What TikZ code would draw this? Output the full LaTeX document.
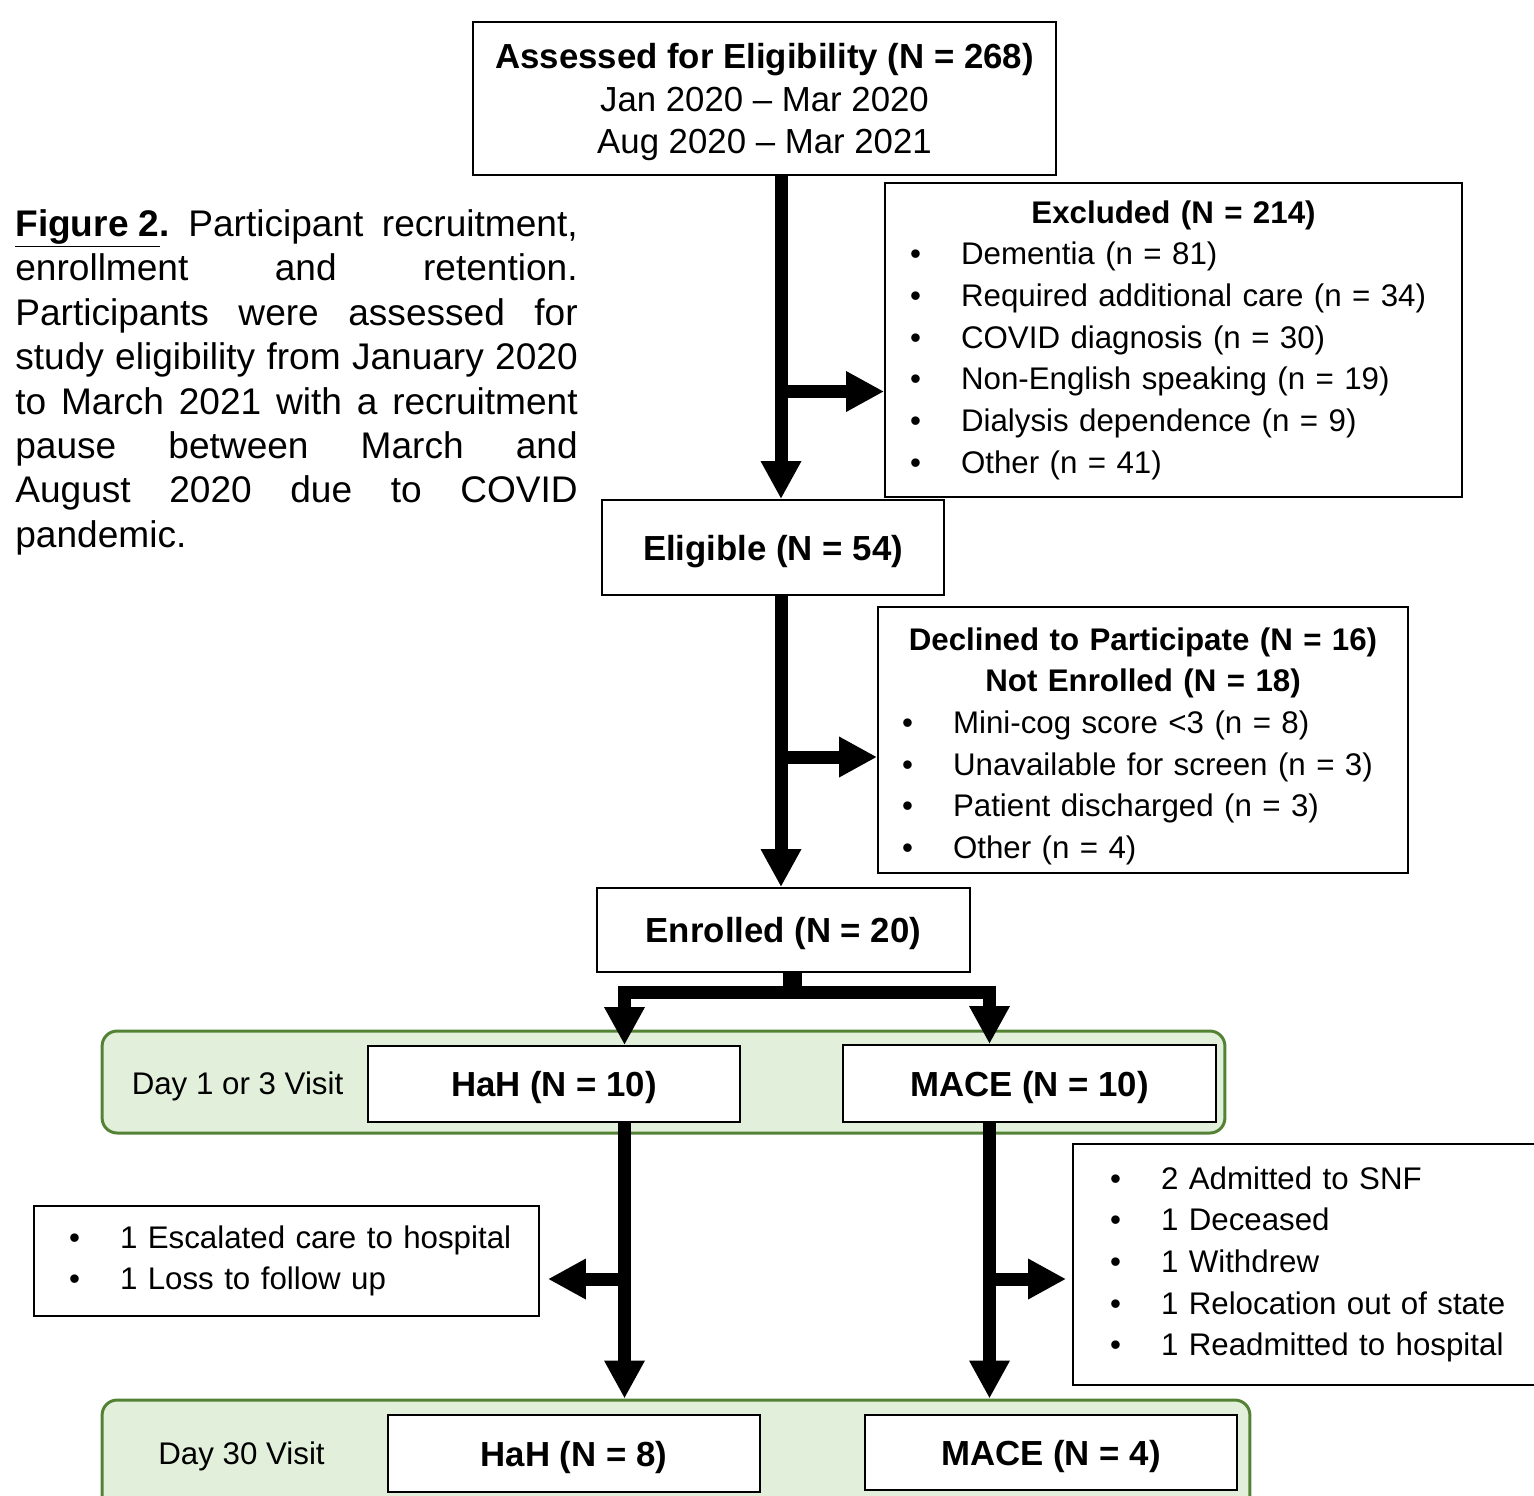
\documentclass[tikz,border=0pt]{standalone}
\usepackage{fontspec}
\setmainfont{Liberation Sans}
\usetikzlibrary{arrows.meta,calc}
\definecolor{visitfill}{HTML}{E2EFDA}
\definecolor{visitline}{HTML}{548235}
\tikzset{
	box/.style={draw, line width=1.1pt, fill=white, inner sep=0pt, align=center},
	plain/.style={box, text depth=0pt},
	visit/.style={draw=visitline, fill=visitfill, line width=1.7pt, rounded corners=0.3cm, inner sep=0pt},
	flow/.style={line width=0.26cm, -{Triangle[length=0.76cm,width=0.76cm]}},
}
\newcommand{\hdsize}{\fontsize{19.8}{24.1}\selectfont}
\newcommand{\bdsize}{\fontsize{17.8}{23.7}\selectfont}
\newcommand{\bul}{\makebox[1.02cm][l]{•}}
\newcommand{\bulin}{\hspace*{0.35cm}\bul}

\begin{document}
\begin{tikzpicture}[x=0.02cm, y=-0.02cm]
	\useasboundingbox (0,0) rectangle (1534,1495);
	% caption
	\node[anchor=north west, text width=11.25cm, inner sep=0pt, align=justify, font=\fontsize{21.1}{25.3}\selectfont] (cap) at (15,209) {\sloppy\frenchspacing\textbf{\underline{Figure 2}.} Participant recruitment,\linebreak enrollment and retention.\linebreak Participants were assessed for\linebreak study eligibility from January 2020\linebreak to March 2021 with a recruitment\linebreak pause between March and\linebreak August 2020 due to COVID\linebreak pandemic.};
	% visit bands
	\node[visit, minimum width=22.46cm, minimum height=2.04cm] (grp1) at (663.5,1082) {};
	\node[visit, minimum width=22.96cm, minimum height=2.6cm] (grp2) at (676,1465) {};
	\node[font=\bdsize, text depth=0pt] (day1) at (237.5,1083) {Day 1 or 3 Visit};
	\node[font=\bdsize, text depth=0pt] (day30) at (241.5,1453) {Day 30 Visit};
	% boxes
	\node[plain, minimum width=11.66cm, minimum height=3.06cm, font=\hdsize] (assess) at (764.5,98.5) {\textbf{Assessed for Eligibility (N = 268)}\\Jan 2020 – Mar 2020\\Aug 2020 – Mar 2021};
	\node[box, align=left, inner xsep=0.5cm, text width=10.54cm, minimum height=6.28cm, font=\bdsize] (excl) at (1173.5,340) {\centering\textbf{Excluded (N = 214)}\par\raggedright
		\bul Dementia (n = 81)\\
		\bul Required additional care (n = 34)\\
		\bul COVID diagnosis (n = 30)\\
		\bul Non-English speaking (n = 19)\\
		\bul Dialysis dependence (n = 9)\\
		\bul Other (n = 41)};
	\node[plain, minimum width=6.84cm, minimum height=1.9cm, font=\hdsize] (elig) at (773,547.5) {\textbf{Eligible (N = 54)}};
	\node[box, align=left, inner xsep=0.48cm, text width=9.64cm, minimum height=5.32cm, font=\bdsize] (decl) at (1143,740) {\centering\rule{0pt}{20pt}\textbf{Declined to Participate (N = 16)}\\\textbf{Not Enrolled (N = 18)}\par\raggedright
		\bul Mini-cog score <3 (n = 8)\\
		\bul Unavailable for screen (n = 3)\\
		\bul Patient discharged (n = 3)\\
		\bul Other (n = 4)};
	\node[plain, minimum width=7.46cm, minimum height=1.68cm, font=\hdsize] (enrol) at (783.5,930) {\textbf{Enrolled (N = 20)}};
	\node[plain, minimum width=7.44cm, minimum height=1.52cm, font=\hdsize] (hah1) at (554,1084) {\textbf{HaH (N = 10)}};
	\node[plain, minimum width=7.46cm, minimum height=1.54cm, font=\hdsize] (mace1) at (1029.5,1083.5) {\textbf{MACE (N = 10)}};
	\node[box, align=left, inner xsep=0.35cm, text width=9.4cm, minimum height=2.2cm, font=\bdsize] (lost1) at (286.5,1261) {\bulin 1 Escalated care to hospital\\
		\bulin 1 Loss to follow up};
	\node[box, align=left, inner xsep=0.74cm, text width=8.02cm, minimum height=4.82cm, font=\bdsize] (lost2) at (1310.5,1264.5) {\bul 2 Admitted to SNF\\
		\bul 1 Deceased\\
		\bul 1 Withdrew\\
		\bul 1 Relocation out of state\\
		\bul 1 Readmitted to hospital};
	\node[plain, minimum width=7.44cm, minimum height=1.54cm, font=\hdsize] (hah2) at (574,1453.5) {\textbf{HaH (N = 8)}};
	\node[plain, minimum width=7.44cm, minimum height=1.5cm, font=\hdsize] (mace2) at (1051,1452.5) {\textbf{MACE (N = 4)}};
	% spines and rows
	\coordinate (c1) at (781,0);
	\coordinate (lc) at (624.5,0);
	\coordinate (rc) at (989.5,0);
	\coordinate (sc) at (792,992);
	\coordinate (r1) at (0,391.5);
	\coordinate (r2) at (0,757);
	\coordinate (r3) at (0,1279);
	% arrows
	\draw[flow] (c1 |- assess.south) -- (c1 |- elig.north);
	\draw[flow] (c1 |- r1) -- (excl.west |- r1);
	\draw[flow] (c1 |- elig.south) -- (c1 |- enrol.north);
	\draw[flow] (c1 |- r2) -- (decl.west |- r2);
	\draw[line width=0.38cm] (sc |- enrol.south) -- (sc);
	\draw[flow] (sc) -| (lc |- hah1.north);
	\draw[flow] (sc) -| (rc |- mace1.north);
	\draw[flow] (lc |- hah1.south) -- (lc |- grp2.north);
	\draw[flow] (lc |- r3) -- ($(lost1.east |- r3)+(8,0)$);
	\draw[flow] (rc |- mace1.south) -- (rc |- grp2.north);
	\draw[flow] (rc |- r3) -- ($(lost2.west |- r3)+(-6,0)$);
\end{tikzpicture}
\end{document}
